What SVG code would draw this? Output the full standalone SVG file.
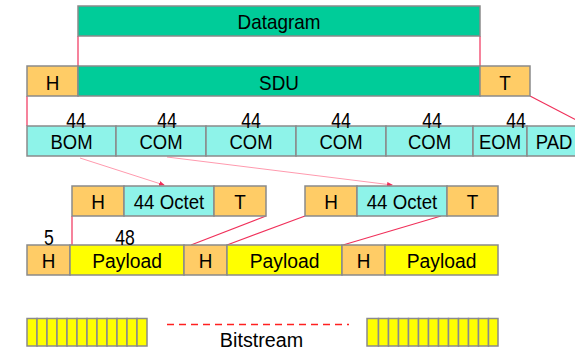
<svg xmlns="http://www.w3.org/2000/svg" width="575" height="349" viewBox="0 0 575 349">
<defs>
<style>
.b{stroke:#8a8a8a;stroke-width:1.5}
.g{fill:#00CC99}
.o{fill:#FFCC66}
.c{fill:#8EF3E9}
.y{fill:#FFFF00}
text{font-family:"Liberation Sans",Arial,sans-serif;font-size:21px;fill:#000;text-anchor:middle}
.n{font-size:22px}
.r{stroke:#F0305A;stroke-width:1.2;fill:none}
.p{stroke:#FF9AAE;stroke-width:1;fill:none}
</style>
<marker id="ah" markerWidth="6" markerHeight="6" refX="5" refY="3" orient="auto" markerUnits="userSpaceOnUse">
<path d="M0,0.5 L6,3 L0,5.5 Z" fill="#F0305A"/>
</marker>
</defs>
<rect width="575" height="349" fill="#fff"/>
<g id="connectors">
<line class="r" x1="78" y1="36" x2="78" y2="66"/>
<line class="r" x1="480" y1="36" x2="480" y2="66"/>
<line class="r" x1="27" y1="96" x2="27" y2="126"/>
<line class="r" x1="530" y1="96" x2="578" y2="121"/>
<line class="p" x1="80" y1="158" x2="164" y2="185" marker-end="url(#ah)"/>
<line class="p" x1="167" y1="157" x2="392" y2="185" marker-end="url(#ah)"/>
<line class="r" x1="72" y1="216" x2="72" y2="245"/>
<line class="r" x1="266" y1="216" x2="191" y2="245"/>
<line class="r" x1="305" y1="216" x2="227" y2="245"/>
<line class="r" x1="441" y1="216" x2="343" y2="245"/>
<line x1="167" y1="324.5" x2="349" y2="324.5" stroke="#FF2020" stroke-width="1.5" stroke-dasharray="7,5"/>
</g>
<g id="datagram"><rect class="b g" x="78" y="6" width="402" height="30"/><text transform="translate(279,29) scale(.9,1)">Datagram</text></g>
<g id="sdu-h"><rect class="b o" x="27" y="66" width="51" height="30"/><text transform="translate(52.5,89.5) scale(.9,1)">H</text></g>
<g id="sdu"><rect class="b g" x="78" y="66" width="402" height="30"/><text transform="translate(279,89.5) scale(.9,1)">SDU</text></g>
<g id="sdu-t"><rect class="b o" x="480" y="66" width="50" height="30"/><text transform="translate(505,89.5) scale(.9,1)">T</text></g>
<g id="bom"><rect class="b c" x="27" y="126" width="89" height="30"/><text transform="translate(71.5,148.5) scale(.88,1)">BOM</text><text class="n" transform="translate(76,127.5) scale(.8,1)">44</text></g>
<g id="com1"><rect class="b c" x="116" y="126" width="90" height="30"/><text transform="translate(161,148.5) scale(.88,1)">COM</text><text class="n" transform="translate(167,127.5) scale(.8,1)">44</text></g>
<g id="com2"><rect class="b c" x="206" y="126" width="90" height="30"/><text transform="translate(251,148.5) scale(.88,1)">COM</text><text class="n" transform="translate(251,127.5) scale(.8,1)">44</text></g>
<g id="com3"><rect class="b c" x="296" y="126" width="90" height="30"/><text transform="translate(341,148.5) scale(.88,1)">COM</text><text class="n" transform="translate(341,127.5) scale(.8,1)">44</text></g>
<g id="com4"><rect class="b c" x="386" y="126" width="87" height="30"/><text transform="translate(429.5,148.5) scale(.88,1)">COM</text><text class="n" transform="translate(432,127.5) scale(.8,1)">44</text></g>
<g id="eom"><rect class="b c" x="473" y="126" width="54" height="30"/><text transform="translate(500,148.5) scale(.88,1)">EOM</text><text class="n" transform="translate(516,127.5) scale(.8,1)">44</text></g>
<g id="pad"><rect class="b c" x="527" y="126" width="52" height="30"/><text transform="translate(554,148.5) scale(.88,1)">PAD</text></g>
<g id="cell1-h"><rect class="b o" x="72" y="186" width="52" height="30"/><text transform="translate(98,208.5) scale(.9,1)">H</text></g>
<g id="cell1-octet"><rect class="b c" x="124" y="186" width="90" height="30"/><text transform="translate(169,208.5) scale(.89,1)">44 Octet</text></g>
<g id="cell1-t"><rect class="b o" x="214" y="186" width="52" height="30"/><text transform="translate(240,208.5) scale(.9,1)">T</text></g>
<g id="cell2-h"><rect class="b o" x="305" y="186" width="52" height="30"/><text transform="translate(331,208.5) scale(.9,1)">H</text></g>
<g id="cell2-octet"><rect class="b c" x="357" y="186" width="90" height="30"/><text transform="translate(402,208.5) scale(.89,1)">44 Octet</text></g>
<g id="cell2-t"><rect class="b o" x="447" y="186" width="51" height="30"/><text transform="translate(472.5,208.5) scale(.9,1)">T</text></g>
<g id="atm1-h"><rect class="b o" x="27" y="245" width="43" height="30"/><text transform="translate(48.5,268) scale(.9,1)">H</text><text class="n" transform="translate(49,245) scale(.8,1)">5</text></g>
<g id="atm1-p"><rect class="b y" x="70" y="245" width="114" height="30"/><text transform="translate(127,268) scale(.92,1)">Payload</text><text class="n" transform="translate(125,245) scale(.8,1)">48</text></g>
<g id="atm2-h"><rect class="b o" x="184" y="245" width="43" height="30"/><text transform="translate(205.5,268) scale(.9,1)">H</text></g>
<g id="atm2-p"><rect class="b y" x="227" y="245" width="115" height="30"/><text transform="translate(284.5,268) scale(.92,1)">Payload</text></g>
<g id="atm3-h"><rect class="b o" x="342" y="245" width="43" height="30"/><text transform="translate(363.5,268) scale(.9,1)">H</text></g>
<g id="atm3-p"><rect class="b y" x="385" y="245" width="113" height="30"/><text transform="translate(441.5,268) scale(.92,1)">Payload</text></g>
<g id="bits-left" class="b y">
<rect x="27" y="318.5" width="10" height="27.5"/><rect x="37" y="318.5" width="10" height="27.5"/><rect x="47" y="318.5" width="10" height="27.5"/><rect x="57" y="318.5" width="10" height="27.5"/><rect x="67" y="318.5" width="10" height="27.5"/><rect x="77" y="318.5" width="10" height="27.5"/><rect x="87" y="318.5" width="10" height="27.5"/><rect x="97" y="318.5" width="10" height="27.5"/><rect x="107" y="318.5" width="10" height="27.5"/><rect x="117" y="318.5" width="10" height="27.5"/><rect x="127" y="318.5" width="10" height="27.5"/><rect x="137" y="318.5" width="10" height="27.5"/>
</g>
<g id="bits-right" class="b y">
<rect x="367" y="318.5" width="11.5" height="27.5"/><rect x="378.5" y="318.5" width="10" height="27.5"/><rect x="388.5" y="318.5" width="10" height="27.5"/><rect x="398.5" y="318.5" width="10" height="27.5"/><rect x="408.5" y="318.5" width="10" height="27.5"/><rect x="418.5" y="318.5" width="10" height="27.5"/><rect x="428.5" y="318.5" width="10" height="27.5"/><rect x="438.5" y="318.5" width="10" height="27.5"/><rect x="448.5" y="318.5" width="10" height="27.5"/><rect x="458.5" y="318.5" width="10" height="27.5"/><rect x="468.5" y="318.5" width="10" height="27.5"/><rect x="478.5" y="318.5" width="10" height="27.5"/><rect x="488.5" y="318.5" width="9.5" height="27.5"/>
</g>
<g id="bitstream-label"><text transform="translate(261.5,347) scale(.94,1)">Bitstream</text></g>
</svg>
